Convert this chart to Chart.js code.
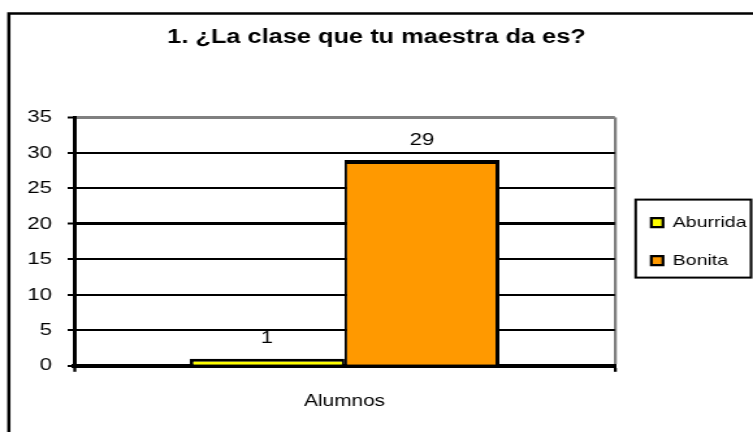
<!DOCTYPE html>
<html><head><meta charset="utf-8">
<script src="https://cdn.jsdelivr.net/npm/chart.js@4/dist/chart.umd.min.js"></script>
<style>
html,body{margin:0;padding:0;background:#fff;overflow:hidden;width:753px;height:432px;}
#wrap{position:absolute;left:0;top:0;width:579px;height:432px;transform:scaleX(1.3005);transform-origin:0 0;}
</style></head><body>
<div id="wrap"><canvas id="c" width="579" height="432"></canvas></div>
<script>
const chartTitle = '1. ¿La clase que tu maestra da es?';
const categories = ['Alumnos'];
const seriesNames = ['Aburrida', 'Bonita'];
const aburrida = [1];
const bonita = [29];
const yTicks = [0, 5, 10, 15, 20, 25, 30, 35];

Chart.defaults.font.family = '"Liberation Sans", Arial, sans-serif';
Chart.defaults.color = '#000';

const valueLabels = {
  id: 'valueLabels',
  afterDatasetsDraw(chart) {
    const ctx = chart.ctx;
    ctx.save();
    ctx.font = '17px "Liberation Sans", Arial, sans-serif';
    ctx.fillStyle = '#000';
    ctx.textAlign = 'center';
    ctx.textBaseline = 'middle';
    chart.data.datasets.forEach((ds, i) => {
      const meta = chart.getDatasetMeta(i);
      meta.data.forEach((bar, j) => {
        ctx.fillText(String(ds.data[j]), bar.x, bar.y - 20);
      });
    });
    ctx.restore();
  }
};

const frames = {
  id: 'frames',
  afterLayout(chart) {
    const lg = chart.legend;
    if (lg) { lg.left += 5; lg.right += 5; }
  },
  afterDraw(chart) {
    const ctx = chart.ctx;
    ctx.save();
    ctx.strokeStyle = '#000';
    // outer chart frame
    ctx.lineWidth = 2.5;
    ctx.strokeRect(6.8, 13.5, 700, 500);
    // legend frame
    const hb = chart.legend.legendHitBoxes;
    if (hb && hb.length) {
      const first = hb[0], last = hb[hb.length - 1];
      const l = first.left - 12;
      const t = first.top + first.height / 2 - 23;
      const b = last.top + last.height / 2 + 17;
      const r = chart.width - 1.5;
      ctx.lineWidth = 2;
      ctx.strokeRect(l, t, r - l, b - t);
    }
    ctx.restore();
  }
};

new Chart(document.getElementById('c'), {
  type: 'bar',
  data: {
    labels: categories,
    datasets: [
      {
        label: seriesNames[0],
        data: aburrida,
        backgroundColor: '#FFFF00',
        borderColor: '#000',
        borderWidth: {left: 3, right: 2, top: 4, bottom: 0},
        categoryPercentage: 0.573,
        barPercentage: 1
      },
      {
        label: seriesNames[1],
        data: bonita,
        backgroundColor: '#FF9900',
        borderColor: '#000',
        borderWidth: {left: 2, right: 3, top: 4, bottom: 0},
        categoryPercentage: 0.573,
        barPercentage: 1
      }
    ]
  },
  options: {
    responsive: false,
    animation: false,
    devicePixelRatio: 1,
    layout: {padding: {left: 0, right: 0, top: 0, bottom: 1}},
    plugins: {
      title: {
        display: true,
        text: chartTitle,
        color: '#000',
        font: {size: 19.5, weight: 'bold'},
        padding: {top: 26, bottom: 68}
      },
      legend: {
        position: 'right',
        fullSize: false,
        align: 'center',
        labels: {
          boxWidth: 9,
          boxHeight: 9,
          padding: 23,
          color: '#000',
          font: {size: 15}
        }
      },
      tooltip: {enabled: false}
    },
    scales: {
      x: {
        grid: {
          offset: true,
          drawOnChartArea: true,
          color: c => c.index === 0 ? '#000' : '#808080',
          lineWidth: c => c.index === 0 ? 3 : 2.3,
          tickColor: '#000',
          tickWidth: 2.3,
          tickLength: 6
        },
        border: {display: true, color: '#000', width: 4},
        ticks: {color: '#000', font: {size: 16}, padding: 20}
      },
      y: {
        min: 0,
        max: 35,
        afterBuildTicks: s => { s.ticks = yTicks.map(v => ({value: v})); },
        afterFit: s => { s.width = 57; },
        grid: {
          color: c => (c.tick && c.tick.value === 35) ? '#808080' : '#000',
          lineWidth: c => (c.tick && (c.tick.value === 35 || c.tick.value === 20)) ? 3 : 2,
          tickColor: '#000',
          tickWidth: 2,
          tickLength: 5
        },
        border: {display: true, color: '#000', width: 3},
        ticks: {color: '#000', font: {size: 17}, padding: 12}
      }
    }
  },
  plugins: [valueLabels, frames]
});
</script>
</body></html>
